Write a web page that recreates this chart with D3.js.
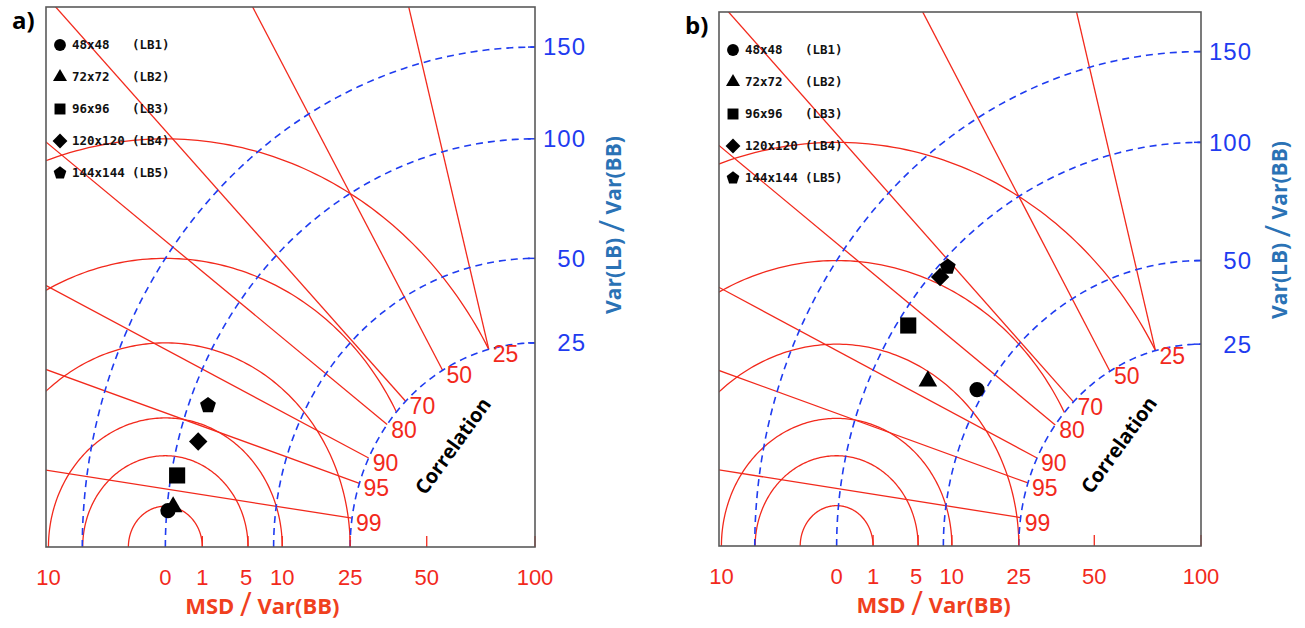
<!DOCTYPE html>
<html>
<head>
<meta charset="utf-8">
<script src="https://cdn.jsdelivr.net/npm/d3@7"></script>
<style>
  body { margin: 0; background: #fff; }
  svg { display: block; }
</style>
</head>
<body>
<svg id="chart" width="1305" height="628"></svg>
<script>
// 等値線のレベル
const msdLevels = [1, 5, 10, 25, 50, 100];
const varLevels = [25, 50, 100, 150];
const corrLevels = [0.25, 0.5, 0.7, 0.8, 0.9, 0.95, 0.99];
const corrLabels = ["25", "50", "70", "80", "90", "95", "99"];

// 凡例
const sizeNames = ["48x48", "72x72", "96x96", "120x120", "144x144"];
const lbNames = ["(LB1)", "(LB2)", "(LB3)", "(LB4)", "(LB5)"];

// データ: Var(LB)/Var(BB) [%] と相関
const varA = [99.4, 96.8, 96.8, 89.7, 90.3];
const corrA = [0.996, 0.995, 0.984, 0.962, 0.931];
const varB = [52.8, 72.9, 94.4, 95.7, 96.1];
const corrB = [0.846, 0.878, 0.827, 0.732, 0.709];

const RED = "#f2291c";
const BLUE = "#1f3cf0";
const sMax = Math.sqrt(175);
const sRef = 10;      // Var = 100%
const sInner = 5;     // Var = 25%

// 五角形
const symbolPentagon = {
  draw(ctx, size) {
    const r = Math.sqrt(size / 2.378);
    for (let i = 0; i < 5; i++) {
      const a = -Math.PI / 2 + i * 2 * Math.PI / 5;
      const px = r * Math.cos(a), py = r * Math.sin(a);
      if (i === 0) ctx.moveTo(px, py); else ctx.lineTo(px, py);
    }
    ctx.closePath();
  }
};
const symbolDiamondSq = {
  draw(ctx, size) {
    const r = Math.sqrt(size / 2);
    ctx.moveTo(0, -r); ctx.lineTo(r, 0); ctx.lineTo(0, r); ctx.lineTo(-r, 0); ctx.closePath();
  }
};
const symbols = [d3.symbolCircle, d3.symbolTriangle, d3.symbolSquare, symbolDiamondSq, symbolPentagon];
const legendSizes = [110, 85, 120, 110, 105];
const dataSizes = [180, 150, 260, 170, 165];

const svg = d3.select("#chart");

drawPanel({ id: "a", label: "a)", left: 46, top: 7, right: 535, bottom: 547, vars: varA, corrs: corrA });
drawPanel({ id: "b", label: "b)", left: 719, top: 12, right: 1201, bottom: 546, vars: varB, corrs: corrB });

function drawPanel(p) {
  const g = svg.append("g");
  const x = d3.scaleLinear().domain([0, sMax]).range([p.right, p.left]);
  const y = d3.scaleLinear().domain([0, sMax]).range([p.bottom, p.top]);
  const kx = x(0) - x(1), ky = y(0) - y(1);

  // クリップ (枠内 / Var=25 の外側)
  const defs = g.append("defs");
  defs.append("clipPath").attr("id", "box-" + p.id)
    .append("rect")
    .attr("x", p.left).attr("y", p.top)
    .attr("width", p.right - p.left).attr("height", p.bottom - p.top);
  const rx = kx * sInner, ry = ky * sInner, ox = x(0), oy = y(0);
  defs.append("clipPath").attr("id", "outer-" + p.id)
    .append("path")
    .attr("clip-rule", "evenodd")
    .attr("d", `M${p.left},${p.top}H${p.right}V${p.bottom}H${p.left}Z` +
      `M${ox - rx},${oy}A${rx},${ry} 0 1 0 ${ox + rx},${oy}A${rx},${ry} 0 1 0 ${ox - rx},${oy}Z`);

  const line = d3.line().x(d => x(d[0])).y(d => y(d[1]));
  const angles = d3.range(0, 361).map(i => i * Math.PI / 180);
  const quarter = d3.range(0, 91).map(i => i * Math.PI / 180);

  // MSD の円
  g.append("g").attr("clip-path", `url(#box-${p.id})`)
    .append("g").attr("clip-path", `url(#outer-${p.id})`)
    .selectAll("path").data(msdLevels).enter()
    .append("path")
    .attr("d", m => line(angles.map(a => [sRef + Math.sqrt(m) * Math.cos(a), Math.sqrt(m) * Math.sin(a)])))
    .attr("fill", "none").attr("stroke", RED).attr("stroke-width", 1.3);

  // 相関の線
  g.append("g").attr("clip-path", `url(#box-${p.id})`)
    .selectAll("line").data(corrLevels).enter()
    .append("line")
    .attr("x1", c => x(sInner * c))
    .attr("y1", c => y(sInner * Math.sqrt(1 - c * c)))
    .attr("x2", c => x(30 * c))
    .attr("y2", c => y(30 * Math.sqrt(1 - c * c)))
    .attr("stroke", RED).attr("stroke-width", 1.3);

  // Var の破線
  g.append("g").attr("clip-path", `url(#box-${p.id})`)
    .selectAll("path").data(varLevels).enter()
    .append("path")
    .attr("d", v => line(quarter.map(a => [Math.sqrt(v) * Math.cos(a), Math.sqrt(v) * Math.sin(a)])))
    .attr("fill", "none").attr("stroke", BLUE).attr("stroke-width", 1.6)
    .attr("stroke-dasharray", "7,5");

  // 右側の目盛
  g.selectAll(".vtick").data(varLevels).enter()
    .append("line")
    .attr("x1", p.right - 7).attr("x2", p.right)
    .attr("y1", v => y(Math.sqrt(v))).attr("y2", v => y(Math.sqrt(v)))
    .attr("stroke", BLUE).attr("stroke-width", 1.5);

  // 下側の目盛
  g.selectAll(".mtick").data(msdLevels).enter()
    .append("line")
    .attr("x1", m => x(sRef - Math.sqrt(m))).attr("x2", m => x(sRef - Math.sqrt(m)))
    .attr("y1", p.bottom).attr("y2", p.bottom - 11)
    .attr("stroke", RED).attr("stroke-width", 1.3);

  // 枠
  g.append("rect")
    .attr("x", p.left).attr("y", p.top)
    .attr("width", p.right - p.left).attr("height", p.bottom - p.top)
    .attr("fill", "none").attr("stroke", "#5a5a5a").attr("stroke-width", 1.6);

  // 相関ラベル
  g.selectAll(".clab").data(corrLevels).enter()
    .append("text")
    .attr("x", c => x(sInner * c) + 4)
    .attr("y", c => y(sInner * Math.sqrt(1 - c * c)) + 5)
    .attr("dy", "0.35em")
    .attr("font-family", "Liberation Sans, Arial, sans-serif")
    .attr("font-size", 23).attr("fill", RED)
    .text((c, i) => corrLabels[i]);

  g.append("text")
    .attr("transform", `translate(${x(0) - 82},${y(0) - 101}) rotate(-54)`)
    .attr("text-anchor", "middle").attr("dy", "0.35em")
    .attr("font-family", "Open Sans, sans-serif").attr("font-weight", "bold")
    .attr("font-size", 20).attr("fill", "#000")
    .text("Correlation");

  // 下側のラベル
  const bottomTicks = [{ s: sRef + Math.sqrt(10), t: "10" }, { s: sRef, t: "0" }]
    .concat(msdLevels.map(m => ({ s: sRef - Math.sqrt(m), t: String(m) })));
  g.selectAll(".blab").data(bottomTicks).enter()
    .append("text")
    .attr("x", d => x(d.s) + (d.t === "5" ? -2 : 0)).attr("y", p.bottom + 38)
    .attr("text-anchor", "middle")
    .attr("font-family", "Liberation Sans, Arial, sans-serif")
    .attr("font-size", 22).attr("fill", RED)
    .text(d => d.t);

  const bt = g.append("text")
    .attr("x", x(sRef) + 97).attr("y", p.bottom + 67)
    .attr("text-anchor", "middle")
    .attr("font-family", "Open Sans, sans-serif").attr("font-weight", "bold")
    .attr("font-size", 22).attr("fill", "#f0401e");
  bt.append("tspan").text("MSD ");
  bt.append("tspan").attr("font-size", 32).attr("font-weight", "normal").attr("dy", 2).text("/");
  bt.append("tspan").attr("dy", -2).text(" Var(BB)");

  // 右側のラベル
  g.selectAll(".rlab").data(varLevels).enter()
    .append("text")
    .attr("x", p.right + 51).attr("y", v => y(Math.sqrt(v)))
    .attr("dy", "0.35em").attr("text-anchor", "end")
    .attr("font-family", "Liberation Sans, Arial, sans-serif")
    .attr("font-size", 24).attr("letter-spacing", 1).attr("fill", BLUE)
    .text(v => v);

  const rt = g.append("text")
    .attr("transform", `translate(${p.right + 86},${p.top + 218}) rotate(-90)`)
    .attr("text-anchor", "middle")
    .attr("font-family", "Open Sans, sans-serif").attr("font-weight", "bold")
    .attr("font-size", 21).attr("fill", "#2a72b5");
  rt.append("tspan").text("Var(LB) ");
  rt.append("tspan").attr("font-size", 34).attr("font-weight", "normal").attr("dy", 3).text("/");
  rt.append("tspan").attr("dy", -3).text(" Var(BB)");

  // パネル名
  svg.append("text")
    .attr("x", p.left - 34).attr("y", p.top + 22)
    .attr("font-family", "Open Sans, sans-serif").attr("font-weight", "bold")
    .attr("font-size", 24).attr("fill", "#000")
    .text(p.label);

  // 凡例
  const leg = g.selectAll(".leg").data(sizeNames).enter()
    .append("g")
    .attr("transform", (d, i) => `translate(${p.left + 14},${p.top + 38 + i * 32})`);
  leg.append("path")
    .attr("d", (d, i) => d3.symbol().type(symbols[i]).size(legendSizes[i])())
    .attr("fill", "#000");
  leg.append("text")
    .attr("x", 12).attr("dy", "0.35em")
    .attr("font-family", "DejaVu Sans Mono, monospace").attr("font-weight", "bold")
    .attr("font-size", 12.5).attr("fill", "#111")
    .text(d => d);
  leg.append("text")
    .attr("x", 72).attr("dy", "0.35em")
    .attr("font-family", "DejaVu Sans Mono, monospace").attr("font-weight", "bold")
    .attr("font-size", 12.5).attr("fill", "#111")
    .text((d, i) => lbNames[i]);

  // データ点
  g.selectAll(".pt").data(p.vars).enter()
    .append("path")
    .attr("transform", (v, i) => {
      const s = Math.sqrt(v), c = p.corrs[i];
      return `translate(${x(s * c)},${y(s * Math.sqrt(1 - c * c))})`;
    })
    .attr("d", (v, i) => d3.symbol().type(symbols[i]).size(dataSizes[i])())
    .attr("fill", "#000");
}
</script>
</body>
</html>
